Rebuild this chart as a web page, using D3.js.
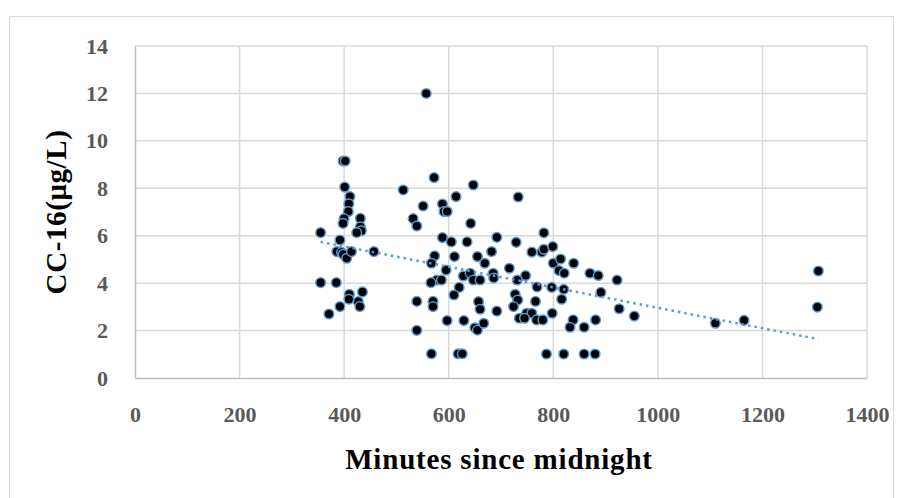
<!DOCTYPE html>
<html>
<head>
<meta charset="utf-8">
<script src="https://cdn.jsdelivr.net/npm/d3@7"></script>
<style>
  body { margin: 0; background: #fff; }
  .tick text { font-family: "Liberation Serif", serif; font-weight: bold; fill: #595959; }
</style>
</head>
<body>
<div id="chart"></div>
<script>
// minutes since midnight
const minutes = [557, 398, 402, 401, 411, 409, 408, 400, 398, 431, 431, 433, 424, 355, 392, 386, 395, 398, 405, 414,
  457, 355, 385, 410, 435, 409, 427, 392, 430, 371, 513, 572, 647, 551, 588, 591, 597, 614, 532, 539,
  642, 588, 605, 635, 692, 682, 573, 611, 655, 669, 567, 595, 685, 628, 641, 647, 660, 686, 577, 586,
  566, 620, 610, 539, 570, 570, 657, 660, 692, 597, 629, 650, 655, 667, 539, 567, 618, 626, 733, 729,
  782, 759, 778, 782, 799, 800, 814, 839, 811, 821, 716, 747, 731, 870, 886, 922, 769, 797, 820, 891,
  727, 732, 766, 816, 724, 926, 749, 759, 798, 955, 735, 745, 768, 780, 838, 881, 832, 859, 787, 820,
  859, 880, 1110, 1165, 1307, 1305];
// CC-16 (µg/L)
const cc16 = [12.0, 9.15, 9.15, 8.05, 7.65, 7.35, 7.02, 6.72, 6.52, 6.73, 6.38, 6.21, 6.13, 6.13, 5.82, 5.33, 5.30, 5.22, 5.05, 5.33,
  5.33, 4.02, 4.02, 3.53, 3.63, 3.32, 3.22, 3.01, 3.01, 2.70, 7.93, 8.45, 8.14, 7.25, 7.34, 7.02, 7.02, 7.65, 6.72, 6.41,
  6.52, 5.92, 5.74, 5.74, 5.93, 5.33, 5.15, 5.12, 5.12, 4.84, 4.84, 4.55, 4.42, 4.30, 4.42, 4.13, 4.13, 4.22, 4.13, 4.13,
  4.02, 3.82, 3.50, 3.23, 3.23, 3.01, 3.22, 2.90, 2.82, 2.42, 2.42, 2.12, 2.02, 2.31, 2.01, 1.02, 1.02, 1.02, 7.63, 5.72,
  6.12, 5.31, 5.31, 5.43, 5.54, 4.84, 5.02, 4.84, 4.53, 4.42, 4.63, 4.32, 4.13, 4.42, 4.32, 4.13, 3.84, 3.82, 3.74, 3.61,
  3.53, 3.29, 3.23, 3.32, 3.01, 2.92, 2.73, 2.73, 2.73, 2.61, 2.52, 2.52, 2.45, 2.45, 2.45, 2.45, 2.14, 2.14, 1.01, 1.01,
  1.01, 1.01, 2.31, 2.43, 4.51, 2.99];

const xTicks = [0, 200, 400, 600, 800, 1000, 1200, 1400];
const yTicks = [0, 2, 4, 6, 8, 10, 12, 14];

const W = 903, H = 498;
const margin = { top: 46, right: 36, bottom: 120, left: 135 };
const width = W - margin.left - margin.right;
const height = H - margin.top - margin.bottom;

const data = minutes.map((m, i) => ({ x: m, y: cc16[i] }));

const svg = d3.select("#chart").append("svg")
  .attr("width", W)
  .attr("height", H);

// outer chart border
svg.append("rect")
  .attr("x", 9.5).attr("y", 16.5)
  .attr("width", 884).attr("height", 500)
  .attr("fill", "none")
  .attr("stroke", "#d9d9d9");

const g = svg.append("g")
  .attr("transform", `translate(${margin.left},${margin.top})`);

const xScale = d3.scaleLinear().domain([0, 1400]).range([0, width]);
const yScale = d3.scaleLinear().domain([0, 14]).range([height, 0]);

// gridlines
g.append("g")
  .selectAll("line.h")
  .data(yTicks.filter(t => t > 0))
  .enter().append("line")
  .attr("x1", 0).attr("x2", width)
  .attr("y1", d => yScale(d)).attr("y2", d => yScale(d))
  .attr("stroke", "#d9d9d9").attr("stroke-width", 1.5);

g.append("g")
  .selectAll("line.v")
  .data(xTicks.filter(t => t > 0))
  .enter().append("line")
  .attr("x1", d => xScale(d)).attr("x2", d => xScale(d))
  .attr("y1", 0).attr("y2", height)
  .attr("stroke", "#d9d9d9").attr("stroke-width", 1.5);

// axes
const xAxis = d3.axisBottom(xScale).tickValues(xTicks).tickFormat(d3.format("d")).tickSize(0).tickPadding(28);
const yAxis = d3.axisLeft(yScale).tickValues(yTicks).tickFormat(d3.format("d")).tickSize(0).tickPadding(27);

g.append("g")
  .attr("class", "x axis")
  .attr("transform", `translate(0,${height})`)
  .call(xAxis)
  .call(a => a.select(".domain").attr("stroke", "#bfbfbf").attr("stroke-width", 1.5))
  .selectAll("text").style("font-size", "22px");

g.append("g")
  .attr("class", "y axis")
  .call(yAxis)
  .call(a => a.select(".domain").attr("stroke", "#bfbfbf").attr("stroke-width", 1.5))
  .selectAll("text").style("font-size", "22px");

// linear trendline from least squares
const mx = d3.mean(data, d => d.x), my = d3.mean(data, d => d.y);
const slope = d3.sum(data, d => (d.x - mx) * (d.y - my)) / d3.sum(data, d => (d.x - mx) * (d.x - mx));
const intercept = my - slope * mx;
const xr = d3.extent(data, d => d.x);

// points
g.append("g")
  .selectAll("circle")
  .data(data)
  .enter().append("circle")
  .attr("cx", d => xScale(d.x))
  .attr("cy", d => yScale(d.y))
  .attr("r", 4.8)
  .attr("fill", "#000")
  .attr("stroke", "#5b9bd5")
  .attr("stroke-width", 1.5);

g.append("line")
  .attr("x1", xScale(xr[0])).attr("y1", yScale(intercept + slope * xr[0]))
  .attr("x2", xScale(xr[1])).attr("y2", yScale(intercept + slope * xr[1]))
  .attr("stroke", "#5b9bd5")
  .attr("stroke-width", 2.5)
  .attr("stroke-dasharray", "2.5 4");

// axis titles
svg.append("text")
  .attr("x", margin.left + width / 2 - 2)
  .attr("y", 469)
  .attr("text-anchor", "middle")
  .style("font-family", "Liberation Serif, serif")
  .style("font-weight", "bold")
  .style("font-size", "29px")
  .style("letter-spacing", "0.8px")
  .text("Minutes since midnight");

svg.append("text")
  .attr("transform", `translate(66,${margin.top + height / 2}) rotate(-90)`)
  .attr("text-anchor", "middle")
  .style("font-family", "Liberation Serif, serif")
  .style("font-weight", "bold")
  .style("font-size", "29px")
  .style("letter-spacing", "0.6px")
  .text("CC-16(μg/L)");
</script>
</body>
</html>
